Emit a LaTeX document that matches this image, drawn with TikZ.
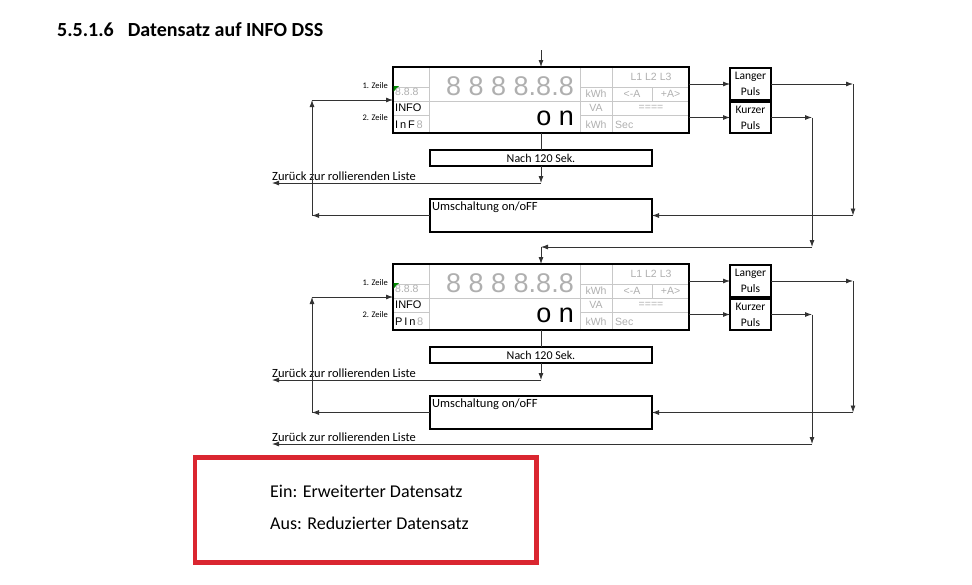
\documentclass[tikz,border=0pt]{standalone}
\usepackage{fontspec}
\setmainfont{Carlito}
\newfontfamily\lcdfont{Liberation Sans}
\usepackage{tikz}
\usetikzlibrary{
  arrows.meta,
  calc,
  positioning
}

\definecolor{lcdgray}{RGB}{175,175,175}
\definecolor{gridgray}{RGB}{200,200,200}
\definecolor{boxred}{RGB}{218,38,48}

\newcommand{\infoblock}[3]{%
  \begin{scope}[shift={(0,#2)}]
  % display grid + frame
  \draw[lcdgrid] (429,67) -- (429,133) (580,67) -- (580,133) (612,67) -- (612,133)
    (652,87) -- (652,101) (393,101) -- (689,101)
    (393,87) -- (429,87) (580,87) -- (689,87)
    (393,115) -- (429,115) (580,115) -- (689,115);
  \node[lcdframe] (disp#1) at (541,100) {};
  \fill[green!55!black] (393.5,86) -- (399,86) -- (393.5,91.5) -- cycle;
  % display texts
  \node[lcdgraytext, font=\lcdfont\fontsize{10.5}{11}\selectfont, anchor=base west] (seg#1) at (395,95.5) {8.8.8};
  \node[lcdtext, anchor=base west] (info#1) at (395,111.5) {INFO};
  \node[lcdtext, anchor=base west] (code#1) at (395,128) {#3\,\textcolor{lcdgray}{8}};
  \node[lcdbig, text=lcdgray, anchor=base east] (digits#1) at (574,95) {8 8 8 8.8.8};
  \node[lcdbig, anchor=base east] (value#1) at (574,125) {o n};
  \node[lcdgraytext] (phase#1) at (651,77) {L1 L2 L3};
  \node[lcdgraytext] (kwha#1) at (596,94) {kWh};
  \node[lcdgraytext] (minus#1) at (632,94) {<-A};
  \node[lcdgraytext] (plus#1) at (670.5,94) {+A>};
  \node[lcdgraytext] (va#1) at (596,108) {VA};
  \node[lcdgraytext] (bars#1) at (651,108) {====};
  \node[lcdgraytext] (kwhb#1) at (596,124.5) {kWh};
  \node[lcdgraytext, anchor=west] (sec#1) at (615,124.5) {Sec};
  \node[zeiletext, anchor=east] (zeile1#1) at (388,86) {1. Zeile};
  \node[zeiletext, anchor=east] (zeile2#1) at (388,118) {2. Zeile};
  % boxes
  \node[stepbox, minimum height=16pt] (nach#1) at (541,158) {Nach 120 Sek.};
  \node[stepbox, minimum height=33pt] (umsch#1) at (541,215.5) {};
  \node[labeltext, anchor=north west] (umtext#1) at (432,202) {Umschaltung on/oFF};
  \node[pulsbox] (lang#1) at (750.5,84) {Langer\\Puls};
  \node[pulsbox, minimum height=31pt] (kurz#1) at (750.5,117.5) {Kurzer\\Puls};
  \node[labeltext, anchor=base west] (zurueck#1) at (272,180) {Zurück zur rollierenden Liste};
  % turning points
  \coordinate (in#1)   at (541,50);
  \coordinate (back#1) at (541,183);
  \coordinate (exit#1) at (272,183);
  \coordinate (lft#1)  at (312,215.5);
  \coordinate (lup#1)  at (312,100);
  \coordinate (lr#1)   at (853,84);
  \coordinate (ld#1)   at (853,215.5);
  \coordinate (kr#1)   at (812,117.5);
  \coordinate (kd#1)   at (812,247);
  % arrows
  \draw[flow] (in#1) -- (disp#1.north);
  \draw[flow, -] (disp#1.south) -- (nach#1.north);
  \draw[flow] (nach#1.south) -- (back#1);
  \draw[flow] (back#1) -- (exit#1);
  \draw[flow] (umsch#1.west) -- (lft#1);
  \draw[flow] (lft#1) -- (lup#1);
  \draw[flow] (lup#1) -- (disp#1.west);
  \draw[flow] (disp#1.east |- lang#1) -- (lang#1.west);
  \draw[flow] (disp#1.east |- kurz#1) -- (kurz#1.west);
  \draw[flow] (lang#1.east) -- (lr#1);
  \draw[flow] (lr#1) -- (ld#1);
  \draw[flow] (ld#1) -- (umsch#1.east);
  \draw[flow] (kurz#1.east) -- (kr#1);
  \draw[flow] (kr#1) -- (kd#1);
  \end{scope}
}

\begin{document}
\begin{tikzpicture}[x=1pt, y=-1pt]

\tikzset{
  lcdframe/.style={
    draw,
    line width=1.6pt,
    inner sep=0pt,
    outer sep=0pt,
    minimum width=296pt,
    minimum height=66pt
  },
  lcdgrid/.style={draw=gridgray, line width=0.7pt},
  lcdtext/.style={inner sep=0pt, font=\lcdfont\fontsize{11}{11}\selectfont},
  lcdgraytext/.style={inner sep=0pt, text=lcdgray, font=\lcdfont\fontsize{10.5}{10.5}\selectfont},
  lcdbig/.style={inner sep=0pt, font=\lcdfont\fontsize{27}{27}\selectfont},
  pulsbox/.style={
    draw,
    line width=1.4pt,
    inner sep=0pt,
    outer sep=0pt,
    minimum width=41pt,
    minimum height=32pt,
    align=center,
    font=\fontsize{11.5}{16}\selectfont
  },
  stepbox/.style={
    draw,
    line width=1.2pt,
    inner sep=0pt,
    outer sep=0pt,
    minimum width=222pt,
    font=\fontsize{12}{12}\selectfont
  },
  labeltext/.style={inner sep=0pt, font=\fontsize{12.5}{13}\selectfont},
  zeiletext/.style={inner sep=0pt, font=\fontsize{8.5}{9}\selectfont},
  legendtext/.style={inner sep=0pt, font=\fontsize{18}{20}\selectfont},
  >={Latex[length=7pt, width=5pt]},
  flow/.style={->, line width=0.8pt, draw=black!80}
}

\useasboundingbox (0,0) rectangle (972,584);

% TITLE ----------------------------------------------------------

\node[inner sep=0pt, anchor=base west, font=\bfseries\fontsize{20}{22}\selectfont] (title) at (57,36.5)
  {5.5.1.6\hspace{14pt}Datensatz auf INFO DSS};

% BLOCKS ---------------------------------------------------------

\infoblock{1}{0}{I\,n\,F}
\infoblock{2}{197}{P\,I\,n}

% Connection between the blocks + final exit
\coordinate (fin) at (272,444);
\draw[flow] (kd1) -- (in2);
\draw[flow] (kd2) -- (fin);
\node[labeltext, anchor=base west] (zurueck3) at (272,441) {Zurück zur rollierenden Liste};

% LEGEND ---------------------------------------------------------

\node[draw=boxred, line width=4.5pt, minimum width=341.5pt, minimum height=105pt] (legend) at (365.75,510) {};
\node[legendtext, anchor=base west] (ein) at (270,497.5) {Ein: Erweiterter Datensatz};
\node[legendtext, anchor=base west] (aus) at (270,529) {Aus: Reduzierter Datensatz};

\end{tikzpicture}
\end{document}
